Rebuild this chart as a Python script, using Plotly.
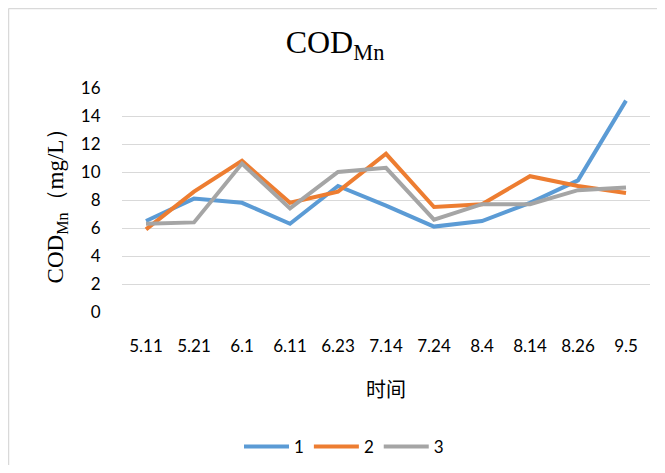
import plotly.graph_objects as go

dates = ["5.11", "5.21", "6.1", "6.11", "6.23", "7.14", "7.24", "8.4", "8.14", "8.26", "9.5"]
series_names = ["1", "2", "3"]
s1 = [6.5, 8.1, 7.8, 6.3, 9.0, 7.6, 6.1, 6.5, 7.8, 9.4, 15.1]
s2 = [5.9, 8.6, 10.8, 7.8, 8.6, 11.3, 7.5, 7.7, 9.7, 9.0, 8.5]
s3 = [6.3, 6.4, 10.6, 7.4, 10.0, 10.3, 6.6, 7.7, 7.7, 8.7, 8.9]
colors = ["#5B9BD5", "#ED7D31", "#A5A5A5"]

fig = go.Figure()
for name, vals, c in zip(series_names, [s1, s2, s3], colors):
    fig.add_trace(go.Scatter(x=dates, y=vals, mode="lines", name=name,
                             line=dict(color=c, width=4)))

# page has 8px body margin; figure coordinates are page - 8
W, H = 649, 457
L, T = 114, 80
PLOT_R, PLOT_B = 642, 304
R, B = W - PLOT_R, H - PLOT_B
pw, ph = PLOT_R - L, PLOT_B - T

def px_x(fx):
    return (fx - L) / pw

def px_y(fy):
    return (PLOT_B - fy) / ph

fig.update_layout(
    width=W, height=H,
    margin=dict(l=L, r=R, t=T, b=B),
    paper_bgcolor="white", plot_bgcolor="white",
    title=dict(text="COD<sub>Mn</sub>", x=327 / W, xanchor="center", y=1 - 34 / H, yanchor="middle",
               font=dict(family="Liberation Serif", size=32, color="black")),
    xaxis=dict(type="category", range=[-0.5, len(dates) - 0.5], showgrid=False, showline=False, zeroline=False,
               ticks="outside", ticklen=19, tickcolor="rgba(0,0,0,0)",
               tickfont=dict(family="Lato", size=17, color="black"),
               title=dict(text="时间", font=dict(family="Noto Sans CJK SC", size=20, color="black"), standoff=27)),
    yaxis=dict(range=[0, 16], dtick=2, showgrid=True, gridcolor="#D9D9D9", gridwidth=1,
               zeroline=False, showline=False,
               ticks="outside", ticklen=17, tickcolor="rgba(0,0,0,0)",
               tickfont=dict(family="Lato", size=17, color="black"),
               title=dict(text="COD<sub>Mn</sub>（mg/L）", font=dict(family="Liberation Serif", size=23, color="black"), standoff=10)),
    legend=dict(orientation="h", xref="paper", x=px_x(336), xanchor="center",
                yref="container", y=1 - 439 / H, yanchor="middle",
                font=dict(family="Lato", size=17, color="black"), itemwidth=45),
    showlegend=True,
)

border = dict(color="#D9D9D9", width=1.5)
fig.add_shape(type="line", xref="paper", yref="paper",
              x0=px_x(0.5), x1=px_x(0.5), y0=px_y(H + 20), y1=px_y(0.5), line=border, layer="below")
fig.add_shape(type="line", xref="paper", yref="paper",
              x0=px_x(0.5), x1=px_x(W + 20), y0=px_y(0.5), y1=px_y(0.5), line=border, layer="below")

fig.write_html("out.html")
